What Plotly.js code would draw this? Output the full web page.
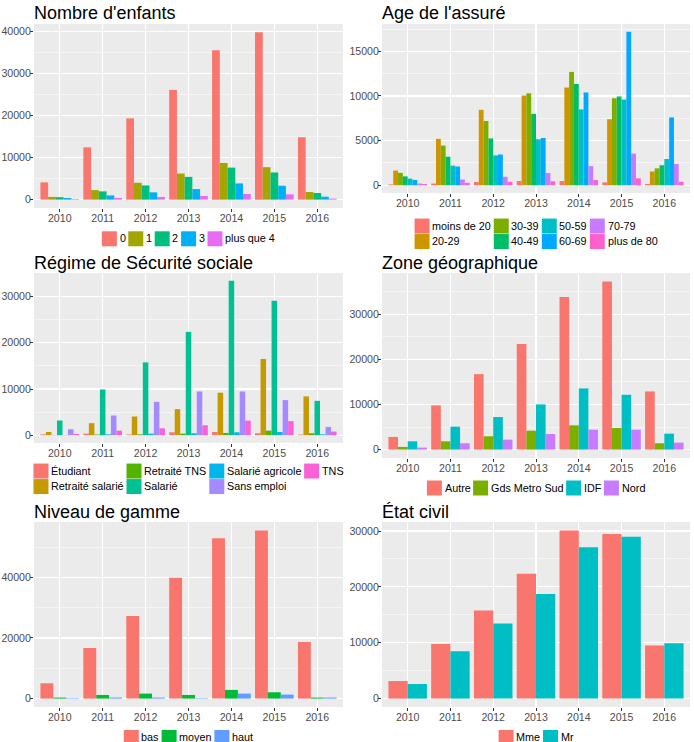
<!DOCTYPE html>
<html><head><meta charset="utf-8">
<script src="https://cdn.plot.ly/plotly-3.0.1.min.js"></script>
<style>html,body{margin:0;padding:0;background:#fff}#chart{width:694px;height:742px}</style>
</head><body><div id="chart"></div>
<script>
// ---------- DATA ----------
const years = ['2010','2011','2012','2013','2014','2015','2016'];

// Nombre d'enfants
const enfantsCats = ['0','1','2','3','plus que 4'];
const enfantsValues = [
  [4100,12400,19300,26050,35450,39700,14800],
  [650,2270,4000,6200,8700,7700,1800],
  [580,1960,3370,5400,7600,6450,1570],
  [380,1000,1730,2500,3850,3300,700],
  [130,400,630,860,1330,1250,240]
];

// Age de l'assuré
const ageCats = ['moins de 20','20-29','30-39','40-49','50-59','60-69','70-79','plus de 80'];
const ageValues = [
  [100,200,370,480,480,330,150],
  [1650,5200,8450,10050,10950,7400,1550],
  [1400,4450,7200,10300,12700,9750,1900],
  [1000,3200,5250,8000,11350,9950,2250],
  [750,2200,3350,5150,8500,9600,2950],
  [600,2100,3450,5300,10400,17200,7600],
  [200,650,950,1380,2150,3550,2380],
  [150,280,400,450,600,780,400]
];

// Régime de Sécurité sociale
const regimeCats = ['Étudiant','Retraité salarié','Retraité TNS','Salarié','Salarié agricole','Sans emploi','TNS'];
const regimeValues = [
  [200,350,150,650,720,430,150],
  [720,2600,4050,5650,9200,16500,8400],
  [50,150,200,350,500,1000,430],
  [3200,9900,15750,22350,33400,29050,7450],
  [50,200,350,430,650,720,200],
  [1300,4270,7230,9470,9470,7600,1800],
  [300,1000,1500,2170,3180,3050,800]
];

// Zone géographique
const zoneCats = ['Autre','Gds Metro Sud','IDF','Nord'];
const zoneValues = [
  [2800,9800,16730,23430,33820,37290,12900],
  [590,1840,2950,4200,5380,4790,1400],
  [1840,5080,7220,10020,13560,12160,3540],
  [440,1400,2210,3460,4420,4420,1550]
];

// Niveau de gamme
const gammeCats = ['bas','moyen','haut'];
const gammeValues = [
  [5050,16700,27250,39900,52950,55500,18680],
  [330,1200,1650,1200,2860,2090,330],
  [150,330,330,150,1650,1320,330]
];

// État civil
const etatCats = ['Mme','Mr'];
const etatValues = [
  [3140,9780,15770,22350,30110,29460,9490],
  [2610,8480,13460,18730,27090,28990,9900]
];

// ---------- STYLE / LAYOUT ----------
const W = 694, H = 742;
const FONT = 'Liberation Sans, Arial, Helvetica, sans-serif';
const pal5 = ['#F8766D','#A3A500','#00BF7D','#00B0F6','#E76BF3'];
const pal8 = ['#F8766D','#CD9600','#7CAE00','#00BE67','#00BFC4','#00A9FF','#C77CFF','#FF61CC'];
const pal7 = ['#F8766D','#C49A00','#53B400','#00C094','#00B6EB','#A58AFF','#FB61D7'];
const pal4 = ['#F8766D','#7CAE00','#00BFC4','#C77CFF'];
const pal3 = ['#F8766D','#00BA38','#619CFF'];
const pal2 = ['#F8766D','#00BFC4'];

const panels = [
  {title:"Nombre d'enfants", cats:enfantsCats, vals:enfantsValues, colors:pal5, px:[34,343], py:[24,208], dtick:10000, rows:1, legY:238.8, titleBase:19.3},
  {title:"Age de l'assuré", cats:ageCats, vals:ageValues, colors:pal8, px:[382,690], py:[24,193], dtick:5000, rows:2, legY:233.8, titleBase:19.3},
  {title:"Régime de Sécurité sociale", cats:regimeCats, vals:regimeValues, colors:pal7, px:[34,343], py:[273,443], dtick:10000, rows:2, legY:478.8, titleBase:269.3},
  {title:"Zone géographique", cats:zoneCats, vals:zoneValues, colors:pal4, px:[382,690], py:[273,458], dtick:10000, rows:1, legY:488, titleBase:269.3},
  {title:"Niveau de gamme", cats:gammeCats, vals:gammeValues, colors:pal3, px:[34,343], py:[522,707], dtick:20000, rows:1, legY:737.5, titleBase:518.3},
  {title:"État civil", cats:etatCats, vals:etatValues, colors:pal2, px:[382,690], py:[522,707], dtick:10000, rows:1, legY:737.5, titleBase:518.3}
];

const ctx = document.createElement('canvas').getContext('2d');
const LEGSIZE = 10.8;
ctx.font = LEGSIZE + 'px "Liberation Sans"';
const tw = s => ctx.measureText(s).width;

const traces = [];
const layout = {
  width: W, height: H,
  margin: {l:0, r:0, t:0, b:0},
  paper_bgcolor: '#FFFFFF',
  plot_bgcolor: '#EBEBEB',
  showlegend: false,
  barmode: 'group',
  bargap: 0.1,
  bargroupgap: 0,
  font: {family: FONT, color: '#000'},
  shapes: [],
  annotations: []
};

const tickFont = {family: FONT, size: 10.6, color: '#4D4D4D'};
const KEY = 15, GAP = 2.7, SEP = 2.7, ROWH = 15.5;

panels.forEach((p, i) => {
  const n = i + 1;
  const xa = 'x' + n, ya = 'y' + n;
  p.cats.forEach((c, j) => {
    traces.push({
      type: 'bar', name: c, x: years, y: p.vals[j],
      xaxis: xa, yaxis: ya,
      marker: {color: p.colors[j], line: {width: 0}},
      hoverinfo: 'skip'
    });
  });
  const m = Math.max(...p.vals.flat());
  layout['xaxis' + n] = {
    domain: [p.px[0] / W, p.px[1] / W], anchor: ya,
    type: 'category', range: [-0.6, 6.6],
    showgrid: true, gridcolor: '#FFFFFF', gridwidth: 1.1,
    zeroline: false, showline: false,
    ticks: 'outside', ticklen: 3, tickwidth: 1, tickcolor: '#333333',
    ticklabelstandoff: -3,
    tickfont: tickFont, fixedrange: true
  };
  layout['yaxis' + n] = {
    domain: [1 - p.py[1] / H, 1 - p.py[0] / H], anchor: xa,
    range: [-0.05 * m, 1.05 * m],
    tick0: 0, dtick: p.dtick,
    showgrid: true, gridcolor: '#FFFFFF', gridwidth: 1.1,
    minor: {dtick: p.dtick / 2, tick0: 0, showgrid: true, gridcolor: '#FFFFFF', gridwidth: 0.5},
    zeroline: false, showline: false,
    ticks: 'outside', ticklen: 3, tickwidth: 1, tickcolor: '#333333',
    ticklabelstandoff: -3,
    tickfont: tickFont, tickformat: 'd', fixedrange: true
  };
  // title
  layout.annotations.push({
    xref: 'paper', yref: 'paper',
    x: p.px[0] / W, y: 1 - (p.titleBase - 6.2) / H,
    xanchor: 'left', yanchor: 'middle', xshift: -2,
    text: p.title, showarrow: false,
    font: {family: FONT, size: 18, color: '#000'}
  });
  // legend (ggplot-like, column-major)
  const nc = p.cats.length, rows = p.rows, cols = Math.ceil(nc / rows);
  const colW = [];
  for (let c = 0; c < cols; c++) {
    let mw = 0;
    for (let r = 0; r < rows; r++) { const k = c * rows + r; if (k < nc) mw = Math.max(mw, tw(p.cats[k])); }
    colW.push(KEY + GAP + mw + SEP);
  }
  const total = colW.reduce((a, b) => a + b, 0);
  let x = (p.px[0] + p.px[1]) / 2 - total / 2 + 1.3;
  const top = p.legY - (rows * ROWH - (ROWH - KEY)) / 2;
  for (let c = 0; c < cols; c++) {
    for (let r = 0; r < rows; r++) {
      const k = c * rows + r;
      if (k >= nc) continue;
      const y0 = top + r * ROWH;
      layout.shapes.push({
        type: 'rect', xref: 'paper', yref: 'paper',
        x0: x / W, x1: (x + KEY) / W, y0: 1 - y0 / H, y1: 1 - (y0 + KEY) / H,
        fillcolor: p.colors[k], line: {width: 0}
      });
      layout.annotations.push({
        xref: 'paper', yref: 'paper',
        x: (x + KEY + GAP) / W, y: 1 - (y0 + KEY / 2 - 0.5) / H,
        xanchor: 'left', yanchor: 'middle', xshift: -2,
        text: p.cats[k], showarrow: false,
        font: {family: FONT, size: LEGSIZE, color: '#000'}
      });
    }
    x += colW[c];
  }
});

Plotly.newPlot('chart', traces, layout, {staticPlot: true, displayModeBar: false});
</script>
</body></html>
